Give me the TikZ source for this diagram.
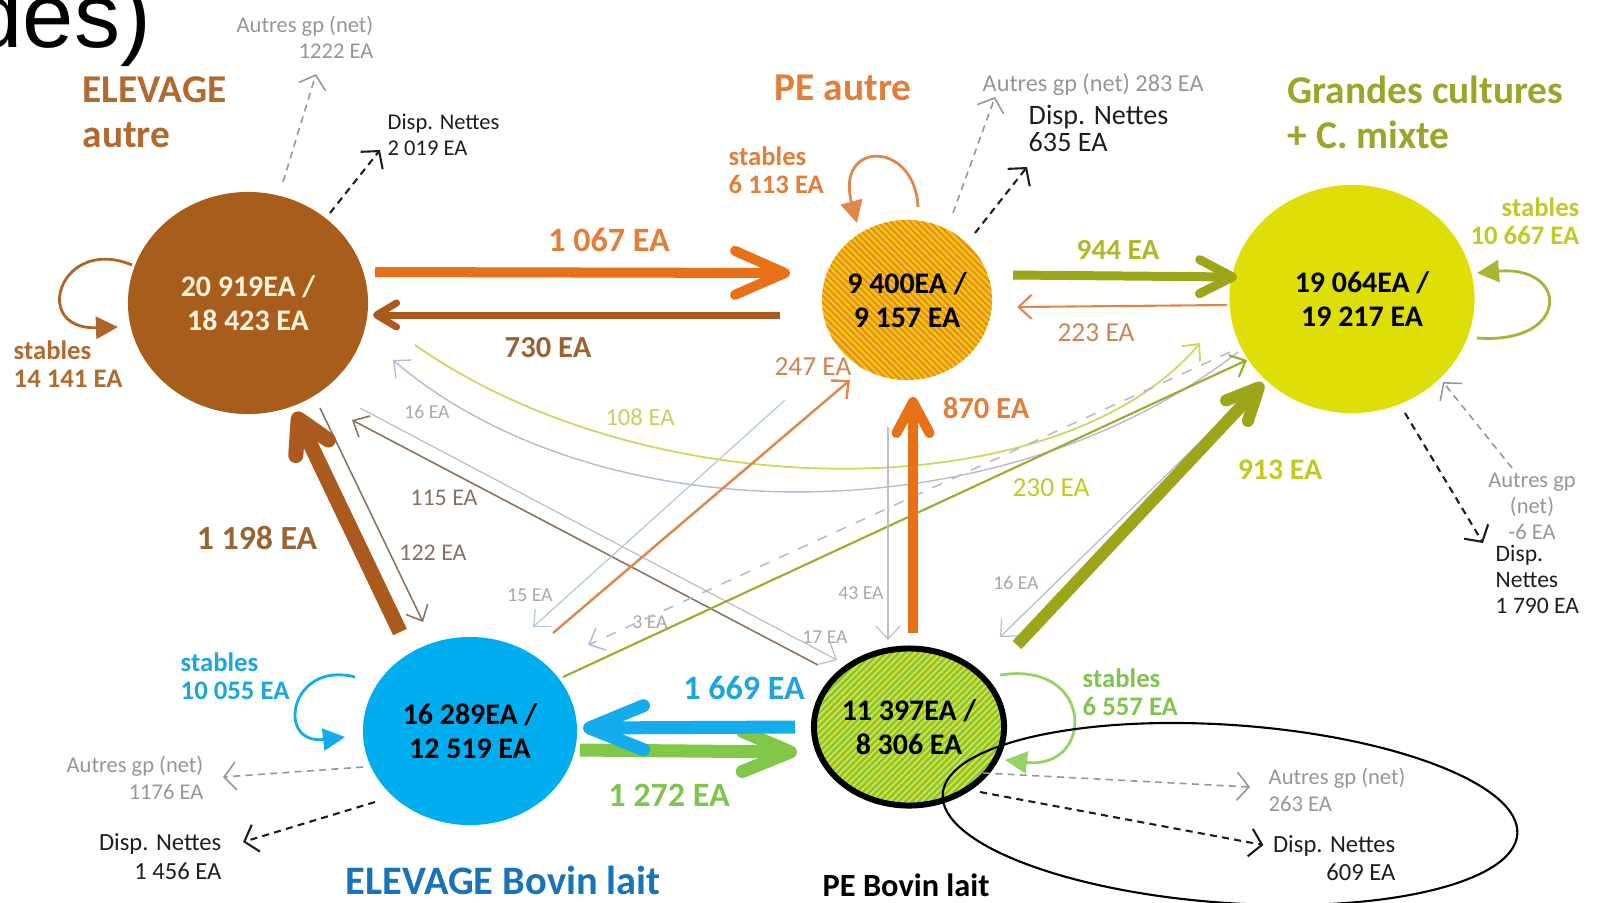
\documentclass[tikz,border=0pt]{standalone}
\usepackage{fontspec}
\setmainfont{Carlito}
\newfontfamily\slidefont{Liberation Sans}
\usetikzlibrary{arrows.meta,shapes.geometric,patterns.meta}
\definecolor{elevbrown}{RGB}{168,94,26}
\definecolor{cream}{RGB}{255,243,222}
\definecolor{peyellow}{RGB}{246,196,12}
\definecolor{peorange}{RGB}{224,140,38}
\definecolor{gcyellow}{RGB}{222,222,8}
\definecolor{blbleu}{RGB}{0,174,239}
\definecolor{blgreen}{RGB}{132,196,62}
\definecolor{blstripe}{RGB}{222,226,50}
\definecolor{tbrown}{RGB}{176,106,48}
\definecolor{tbrowndark}{RGB}{154,100,50}
\definecolor{torange}{RGB}{226,126,58}
\definecolor{tthinorange}{RGB}{208,132,82}
\definecolor{tolive}{RGB}{155,165,40}
\definecolor{tyellowolive}{RGB}{175,185,40}
\definecolor{tyellow}{RGB}{192,202,36}
\definecolor{tlime}{RGB}{200,210,90}
\definecolor{tblue}{RGB}{24,116,186}
\definecolor{tcyan}{RGB}{30,165,225}
\definecolor{tgreen}{RGB}{128,196,80}
\definecolor{tgray}{RGB}{150,150,150}
\definecolor{tlight}{RGB}{168,168,168}
\definecolor{tgraybrown}{RGB}{130,115,100}
\definecolor{tdark}{RGB}{30,30,30}
\definecolor{aorange}{RGB}{232,112,22}
\definecolor{abrown}{RGB}{170,90,28}
\definecolor{aolive}{RGB}{155,166,24}
\definecolor{ablue}{RGB}{20,172,236}
\definecolor{agreen}{RGB}{130,200,72}
\definecolor{athinorange}{RGB}{225,135,75}
\definecolor{athinbrown}{RGB}{140,115,95}
\definecolor{alight}{RGB}{190,190,195}
\definecolor{alightblue}{RGB}{180,200,225}
\definecolor{alavender}{RGB}{180,186,220}
\definecolor{alime}{RGB}{205,215,90}
\definecolor{aolivethin}{RGB}{150,175,40}
\definecolor{aloopbrown}{RGB}{175,100,40}
\definecolor{aloopolive}{RGB}{170,180,50}
\definecolor{aloopgreen}{RGB}{150,210,100}
\begin{document}
\begin{tikzpicture}
    [%%%%%%%%%%%%%%%%%%%%%%%%%%%%%%
        x=0.01cm, y=-0.01cm,
        pop/.style={ellipse, inner sep=0pt, align=center, font=\bfseries\fontsize{8.5}{9.6}\selectfont},
        grplabel/.style={inner sep=0pt, align=left, font=\bfseries\fontsize{11.2}{12.8}\selectfont},
        stablbl/.style={inner sep=0pt, align=left, font=\bfseries\fontsize{7.6}{8}\selectfont},
        majorlbl/.style={inner sep=0pt, font=\bfseries\fontsize{#1}{#1}\selectfont},
        majorlbl/.default=9.7,
        midlbl/.style={inner sep=0pt, font=\fontsize{#1}{#1}\selectfont},
        midlbl/.default=7.8,
        minorlbl/.style={inner sep=0pt, text=tlight, font=\fontsize{5.6}{5.6}\selectfont},
        exitlbl/.style n args={2}{inner sep=0pt, font=\fontsize{#1}{#2}\selectfont},
        majorflow/.style n args={3}{line width=#1, -{Straight Barb[round, length=#2, width=#3]}},
        minorflow/.style={line width=#1, -{Straight Barb[length=1.3mm, width=2.4mm]}},
        exitarrow/.style={line width=#1, dash pattern=on 2pt off 1.5pt, -{Straight Barb[length=1.2mm, width=2.8mm]}},
        stayloop/.style={line width=0.8pt, -{Triangle[length=2.2mm, width=2.2mm]}},
    ]%%%%%%%%%%%%%%%%%%%%%%%%%%%%%%
\useasboundingbox (0,0) rectangle (1601,902);
\clip (0,0) rectangle (1601,902);
\node[anchor=base west, inner sep=0pt, font=\slidefont\fontsize{26.2}{30}\selectfont] (slide) at (-29,47) {des)};
% groups
\node[pop, fill=elevbrown, text=cream, minimum width=2.40cm, minimum height=2.22cm] (elevA) at (248,303) {20 919EA /\\18 423 EA};
\node[pop, preaction={fill=peyellow}, pattern={Lines[angle=-45,distance=1.3pt,line width=0.55pt]}, pattern color=peorange, minimum width=1.70cm, minimum height=1.60cm] (peA) at (907,300) {9 400EA /\\9 157 EA};
\node[pop, fill=gcyellow, minimum width=2.45cm, minimum height=2.28cm] (gc) at (1352,299) {\hspace*{0.2cm}19 064EA /\\\hspace*{0.2cm}19 217 EA};
\node[pop, fill=blbleu, minimum width=2.14cm, minimum height=1.88cm] (elevBL) at (470,731) {16 289EA /\\12 519 EA};
\node[pop, draw=black, line width=1.7pt, preaction={fill=blgreen}, pattern={Lines[angle=45,distance=1.3pt,line width=0.55pt]}, pattern color=blstripe, minimum width=1.62cm, minimum height=1.57cm] (peBL) at (909,727) {11 397EA /\\8 306 EA};
\node[grplabel, text=tbrown, anchor=west] (tEA) at (82,112) {ELEVAGE\\autre};
\node[grplabel, text=torange] (tPA) at (843,88) {PE autre};
\node[grplabel, text=tolive, anchor=west] (tGC) at (1287,112) {Grandes cultures\\+ C. mixte};
\node[grplabel, text=tblue, anchor=west, font=\bfseries\fontsize{11.5}{13}\selectfont] (tEBL) at (345,880) {ELEVAGE Bovin lait};
\node[grplabel, anchor=west, font=\bfseries\fontsize{9.2}{11}\selectfont] (tPBL) at (822,885) {PE Bovin lait};
\node[stablbl, text=tbrown, anchor=west] (stEA) at (13,364) {stables\\14 141 EA};
\node[stablbl, text=torange, anchor=west] (stPA) at (728,170) {stables\\6 113 EA};
\node[stablbl, text=tyellow, anchor=east, align=right] (stGC) at (1580,221) {stables\\10 667 EA};
\node[stablbl, text=tcyan, anchor=west] (stEBL) at (180,676) {stables\\10 055 EA};
\node[stablbl, text=tgreen, anchor=west] (stPBL) at (1082,692) {stables\\6 557 EA};
% flow labels
\node[majorlbl, text=torange] (f1067) at (609,240) {1 067 EA};
\node[majorlbl=8.7, text=tbrowndark] (f730) at (548,348) {730 EA};
\node[majorlbl=8.3, text=tyellowolive] (f944) at (1118,250) {944 EA};
\node[majorlbl=8.7, text=torange] (f870) at (986,408) {870 EA};
\node[majorlbl=8.5, text=tyellow] (f913) at (1280,470) {913 EA};
\node[majorlbl=9.6, text=tbrowndark] (f1198) at (257,538) {1 198 EA};
\node[majorlbl, text=tcyan] (f1669) at (744,688) {1 669 EA};
\node[majorlbl, text=tgreen] (f1272) at (669,795) {1 272 EA};
\node[midlbl, text=tthinorange] (f223) at (1096,333) {223 EA};
\node[midlbl, text=tthinorange] (f247) at (813,367) {247 EA};
\node[midlbl, text=tyellow] (f230) at (1051,488) {230 EA};
\node[midlbl=7, text=tlime] (f108) at (640,417) {108 EA};
\node[midlbl=6.8, text=tgraybrown] (f122) at (433,553) {122 EA};
\node[midlbl=6.8, text=tgraybrown] (f115) at (444,498) {115 EA};
\node[minorlbl] (f16a) at (427,412) {16 EA};
\node[minorlbl] (f15) at (530,595) {15 EA};
\node[minorlbl] (f3) at (650,622) {3 EA};
\node[minorlbl] (f43) at (861,593) {43 EA};
\node[minorlbl] (f17) at (825,637) {17 EA};
\node[minorlbl] (f16b) at (1016,583) {16 EA};
% exits
\node[exitlbl={6.4}{7.5}, text=tgray, align=right, anchor=east] (agpEA) at (374,37) {Autres gp (net)\\1222 EA};
\node[exitlbl={6.4}{7.5}, text=tdark, align=left, anchor=west] (dnEA) at (387,135) {Disp. Nettes\\2 019 EA};
\node[exitlbl={6.9}{8}, text=tgray, anchor=west] (agpPA) at (982,85) {Autres gp (net) 283 EA};
\node[exitlbl={8}{7.7}, text=tdark, align=left, anchor=west] (dnPA) at (1028,128) {Disp. Nettes\\635 EA};
\node[exitlbl={6.4}{7.4}, text=tgray, align=center] (agpGC) at (1532,506) {Autres gp\\(net)\\-6 EA};
\node[exitlbl={6.7}{7.4}, text=tdark, align=left, anchor=west] (dnGC) at (1495,579) {Disp.\\Nettes\\1 790 EA};
\node[exitlbl={6.4}{7.5}, text=tgray, align=right, anchor=east] (agpEBL) at (204,778) {Autres gp (net)\\1176 EA};
\node[exitlbl={7}{8.2}, text=tdark, align=right, anchor=east] (dnEBL) at (222,857) {Disp. Nettes\\1 456 EA};
\node[exitlbl={6.4}{7.5}, text=tgray, align=left, anchor=west] (agpPBL) at (1268,790) {Autres gp (net)\\263 EA};
\node[exitlbl={7}{7.8}, text=tdark, align=right, anchor=east] (dnPBL) at (1396,858) {Disp. Nettes\\609 EA};
% thin flows
\draw[minorflow=0.45pt, athinbrown] ([shift={(72,105)}]elevA.center) -- ([shift={(-47,-109)}]elevBL.center);
\draw[minorflow=0.45pt, athinbrown] ([shift={(-91,-62)}]peBL.center) -- ([shift={(104,117)}]elevA.center);
\draw[minorflow=0.35pt, alight] ([shift={(112,105)}]elevA.center) -- ([shift={(-72,-67)}]peBL.center);
\draw[minorflow=0.4pt, alavender] ([shift={(-114,53)}]gc.center) .. controls (1000,537) and (600,537) .. ([shift={(145,57)}]elevA.center);
\draw[minorflow=0.5pt, alime] ([shift={(167,42)}]elevA.center) .. controls (650,510) and (1060,510) .. ([shift={(-152,44)}]gc.center);
\draw[minorflow=0.35pt, alightblue] ([shift={(-122,100)}]peA.center) -- ([shift={(63,-104)}]elevBL.center);
\draw[minorflow=0.7pt, athinorange] ([shift={(83,-98)}]elevBL.center) -- ([shift={(-57,80)}]peA.center);
\draw[minorflow=0.45pt, alavender, dashed] ([shift={(-122,53)}]gc.center) -- ([shift={(118,-86)}]elevBL.center);
\draw[minorflow=0.6pt, aolivethin] ([shift={(93,-54)}]elevBL.center) -- ([shift={(-105,61)}]gc.center);
\draw[minorflow=0.35pt, alight] ([shift={(-19,127)}]peA.center) -- ([shift={(-21,-87)}]peBL.center);
\draw[minorflow=0.35pt, alavender] ([shift={(-119,111)}]gc.center) -- ([shift={(91,-90)}]peBL.center);
\draw[minorflow=0.6pt, athinorange] ([shift={(-125,6)}]gc.center) -- ([shift={(110,7)}]peA.center);
% main flows
\draw[majorflow={2.85pt}{5mm}{4.4mm}, aorange] ([shift={(127,-31)}]elevA.center) -- ([shift={(-117,-27)}]peA.center);
\draw[majorflow={2pt}{2.0mm}{2.4mm}, abrown] ([shift={(-127,15)}]peA.center) -- ([shift={(125,12)}]elevA.center);
\draw[majorflow={2.55pt}{3.3mm}{3.4mm}, aolive] ([shift={(106,-25)}]peA.center) -- ([shift={(-115,-22)}]gc.center);
\draw[majorflow={2.85pt}{3.1mm}{3.3mm}, aorange] ([shift={(4,-94)}]peBL.center) -- ([shift={(6,97)}]peA.center);
\draw[majorflow={3.4pt}{3.2mm}{3.0mm}, aolive] ([shift={(108,-82)}]peBL.center) -- ([shift={(-89,84)}]gc.center);
\draw[majorflow={4.3pt}{3.2mm}{3.6mm}, abrown] ([shift={(-70,-99)}]elevBL.center) -- ([shift={(47,109)}]elevA.center);
\draw[majorflow={3.7pt}{4.8mm}{4.0mm}, agreen] ([shift={(110,19)}]elevBL.center) -- ([shift={(-112,25)}]peBL.center);
\draw[majorflow={3.7pt}{5.4mm}{4.4mm}, ablue] ([shift={(-114,0)}]peBL.center) -- ([shift={(113,-3)}]elevBL.center);
% stables
\draw[stayloop, aloopbrown] ([shift={(-116,-38)}]elevA.center) .. controls (60,235) and (30,330) .. ([shift={(-130,24)}]elevA.center);
\draw[stayloop, athinorange] ([shift={(11,-93)}]peA.center) .. controls (915,140) and (835,140) .. ([shift={(-50,-77)}]peA.center);
\draw[stayloop, aloopolive] ([shift={(125,39)}]gc.center) .. controls (1570,345) and (1570,265) .. ([shift={(125,-26)}]gc.center);
\draw[stayloop, ablue] ([shift={(-115,-54)}]elevBL.center) .. controls (290,660) and (275,745) .. ([shift={(-125,6)}]elevBL.center);
\draw[stayloop, aloopgreen] ([shift={(91,-52)}]peBL.center) .. controls (1095,660) and (1095,770) .. ([shift={(96,33)}]peBL.center);
% exits
\draw[exitarrow=0.45pt, tgray] ([shift={(35,-121)}]elevA.center) -- ([shift={(11,15)}]agpEA.south);
\draw[exitarrow=0.6pt, tdark] ([shift={(82,-90)}]elevA.center) -- ([shift={(-7,15)}]dnEA.west);
\draw[exitarrow=0.45pt, tgray] ([shift={(46,-87)}]peA.center) -- ([shift={(13,12)}]agpPA.west);
\draw[exitarrow=0.6pt, tdark] ([shift={(68,-67)}]peA.center) -- ([shift={(-1,39)}]dnPA.west);
\draw[exitarrow=0.6pt, tdark] ([shift={(53,114)}]gc.center) -- ([shift={(-12,-36)}]dnGC.west);
\draw[exitarrow=0.45pt, tgray] ([shift={(-20,-4)}]agpGC.north) -- ([shift={(91,83)}]gc.center);
\draw[exitarrow=0.45pt, tgray] ([shift={(-107,36)}]elevBL.center) -- ([shift={(19,-1)}]agpEBL.east);
\draw[exitarrow=0.6pt, tdark] ([shift={(-95,71)}]elevBL.center) -- ([shift={(21,-15)}]dnEBL.east);
\draw[exitarrow=0.45pt, tgray] ([shift={(74,46)}]peBL.center) -- ([shift={(-18,-3)}]agpPBL.west);
\draw[exitarrow=0.6pt, tdark] ([shift={(71,65)}]peBL.center) -- ([shift={(-9,-13)}]dnPBL.west);
\draw[line width=0.6pt, rotate around={-4:(1230,814)}] (1230,814) ellipse [x radius=288, y radius=89];
\end{tikzpicture}
\end{document}
